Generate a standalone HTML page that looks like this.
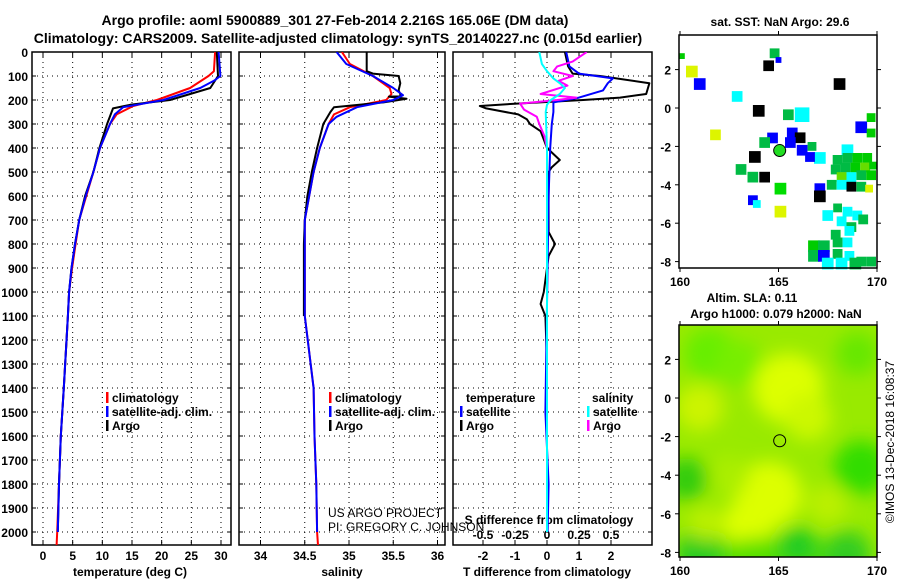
<!DOCTYPE html>
<html><head><meta charset="utf-8"><style>
body{margin:0;background:#fff}
svg{display:block;font-family:"Liberation Sans",sans-serif}
.t{font-weight:bold;font-size:12px}
.h{font-weight:bold;font-size:14px}
</style></head><body>
<svg id="chart" width="900" height="580" viewBox="0 0 900 580" xmlns="http://www.w3.org/2000/svg">
<defs>
<clipPath id="c1"><rect x="32" y="52" width="199" height="493"/></clipPath>
<clipPath id="c2"><rect x="239" y="52" width="206" height="493"/></clipPath>
<clipPath id="c3"><rect x="453" y="52" width="199" height="493"/></clipPath>
<clipPath id="cm2"><rect x="679" y="325" width="198" height="232"/></clipPath>
<filter id="blur" x="-50%" y="-50%" width="200%" height="200%"><feGaussianBlur stdDeviation="9"/></filter>
</defs>
<text class="h" x="335" y="25" text-anchor="middle">Argo profile: aoml 5900889_301 27-Feb-2014 2.216S 165.06E (DM data)</text>
<text class="h" x="338" y="43" text-anchor="middle">Climatology: CARS2009. Satellite-adjusted climatology: synTS_20140227.nc (0.015d earlier)</text>
<g id="g"></g>
</svg>
<script>
// ---- data ----
const depthTicks=[0,100,200,300,400,500,600,700,800,900,1000,1100,1200,1300,1400,1500,1600,1700,1800,1900,2000];
const tempTicks=[0,5,10,15,20,25,30];
const salTicks=[34,34.5,35,35.5,36];
const salTickLabels=["34","34.5","35","35.5","36"];
const tdiffTicks=[-2,-1,0,1,2];
const sdiffTicks=[-0.5,-0.25,0,0.25,0.5];
const sdiffLabels=["-0.5","-0.25","0","0.25","0.5"];

const argoDepth=[0,100,150,200,220,235,300,400,500,600,700,800,900,1000,1100,1400,1600,1800,2000];
const argoTemp=[29.3,29.5,28.2,21.4,14.7,11.8,10.8,9.5,8.5,7.1,6.1,5.4,4.8,4.4,4.2,3.5,3.0,2.7,2.5];
const climDepth=[0,80,100,150,200,225,260,300,400,500,600,700,800,900,1000,1100,1400,1600,1800,2000,2055];
const climTemp=[29.0,28.8,27.9,24.8,19.2,15.2,12.4,11.3,9.6,8.5,7.3,6.1,5.5,4.9,4.4,4.2,3.5,3.0,2.7,2.4,2.3];
const satDepth=[0,100,120,150,200,230,260,300,400,500,600,700,800,900,1000,1100,1400,1600,1800,2000];
const satTemp=[29.6,29.9,28.8,26.5,20.3,13.5,12.1,11.3,9.6,8.5,7.2,6.1,5.4,4.8,4.4,4.2,3.5,3.0,2.7,2.5];

const argoSDepth=[0,80,90,100,130,160,175,185,186,195,210,230,250,300,400,500,600,700,800,1100];
const argoSal=[35.20,35.20,35.27,35.56,35.58,35.56,35.58,35.58,35.45,35.65,35.39,34.83,34.79,34.71,34.64,34.58,34.53,34.50,34.49,34.49];
const climSDepth=[0,50,100,150,175,200,230,260,300,400,500,600,700,1100,1400,1600,1800,2000,2055];
const climSal=[34.92,35.01,35.27,35.46,35.48,35.42,35.01,34.83,34.77,34.67,34.60,34.55,34.50,34.50,34.60,34.61,34.63,34.64,34.65];
const satSDepth=[0,50,100,150,180,200,230,270,300,400,500,600,700,1100,1400,1600,1800,2000];
const satSal=[34.86,34.97,35.27,35.50,35.61,35.50,35.09,34.86,34.77,34.67,34.60,34.55,34.50,34.50,34.60,34.61,34.63,34.64];

const dArgoTDepth=[0,60,90,100,130,175,190,200,215,225,235,260,280,300,330,400,450,480,500,750,800,850,900,1000,1050,1100,1300,2000];
const dArgoT=[0.56,0.66,0.8,1.66,3.2,3.1,2.28,1.13,-0.94,-2.1,-1.9,-0.9,-0.63,-0.53,-0.2,0,0.4,0.15,0.05,0.05,0.25,0.05,0,-0.1,-0.2,-0.05,0,0];
const dSatTDepth=[0,60,90,110,130,160,190,210,250,300,400,600,1500,1800,2000];
const dSatT=[0.6,0.7,1.0,2.06,1.9,1.75,1.0,0.2,0.2,0.15,0.1,0.05,-0.05,0.05,0.02];
const dArgoSDepth=[0,40,60,80,100,120,140,175,190,200,215,240,270,300,350,400,2000];
const dArgoS=[0.31,0.2,0.08,0.05,0.2,0.09,0.16,-0.05,0.23,0.08,-0.21,-0.18,-0.08,-0.06,-0.02,0,0];
const dSatSDepth=[0,50,80,110,130,150,175,200,220,250,400,2000];
const dSatS=[-0.06,-0.04,0,0.05,0.1,0.14,0.1,0.03,0,-0.01,0,0];

// map squares: lon, lat, size(deg), colour
const sqLon=[160.6,161.0,162.9,164.5,164.8,165.0,164.0,165.5,166.2,168.1,161.8,164.7,164.3,165.7,166.1,165.6,166.2,166.7,167.1,166.6,163.8,163.1,163.7,164.3,165.1,167.1,167.1,165.1,163.7,163.9,168.5,169.2,169.7,169.7,160.1,
168.0,168.5,169.0,169.5,167.9,168.4,168.9,169.4,169.8,168.2,168.7,169.2,169.7,167.7,168.2,168.7,169.2,169.6,
167.5,168.0,168.5,169.0,168.2,168.7,167.9,168.6,169.3,
166.8,167.3,166.8,167.3,168.0,168.5,168.0,168.6,169.2,169.7,167.5,168.2,168.9];
const sqLat=[1.9,1.25,0.6,2.2,2.85,2.5,-0.15,-0.35,-0.35,1.25,-1.4,-1.56,-1.8,-1.3,-1.55,-1.8,-2.2,-2.0,-2.6,-2.55,-2.55,-3.2,-3.6,-3.6,-4.2,-4.2,-4.6,-5.4,-4.8,-5.0,-2.2,-1.0,-0.5,-1.3,2.7,
-2.7,-2.6,-2.6,-2.6,-3.2,-3.1,-3.1,-3.1,-3.0,-3.6,-3.6,-3.5,-3.5,-4.0,-4.0,-4.1,-4.1,-4.2,
-5.6,-5.2,-5.4,-5.6,-5.9,-6.2,-6.6,-6.4,-5.8,
-7.2,-7.2,-7.7,-7.7,-7.0,-7.0,-7.6,-7.7,-8.0,-8.0,-8.1,-8.1,-8.1];
const sqSize=[0.6,0.6,0.55,0.55,0.5,0.3,0.6,0.55,0.75,0.6,0.55,0.55,0.55,0.55,0.55,0.55,0.55,0.45,0.6,0.5,0.6,0.55,0.55,0.55,0.6,0.55,0.6,0.6,0.5,0.4,0.6,0.6,0.45,0.45,0.3,
0.5,0.5,0.5,0.5,0.5,0.5,0.5,0.5,0.4,0.5,0.5,0.5,0.5,0.5,0.5,0.5,0.5,0.4,
0.55,0.45,0.5,0.5,0.5,0.5,0.5,0.5,0.5,
0.6,0.6,0.6,0.6,0.5,0.5,0.5,0.5,0.5,0.5,0.6,0.6,0.6];
const sqCol=["#ddf500","#0000ff","#00ffff","#000","#00bb44","#0000ff","#000","#00bb44","#00ffff","#000","#ddf500","#0000ff","#00bb44","#0000ff","#000","#0000ff","#0000ff","#00bb44","#00ffff","#0000ff","#000","#00bb44","#00bb44","#000","#00dd00","#0000ff","#000","#ddf500","#0000ff","#00ffff","#00ffff","#0000ff","#00cc00","#00cc00","#00cc00",
"#00bb44","#00bb44","#00cc00","#00cc00","#00bb44","#00bb44","#00cc00","#66dd00","#00cc00","#66dd00","#00ffff","#00bb44","#00cc00","#00bb44","#00ffff","#000","#00bb44","#ddf500",
"#00ffff","#00bb44","#00ffff","#00ffff","#00ffff","#00bb44","#00bb44","#00ffff","#00bb44",
"#00cc00","#00bb44","#00bb44","#0000ff","#00bb44","#00ffff","#00bb44","#00ffff","#00bb44","#00bb44","#00ffff","#00ffff","#00bb44"];

// SLA blobs: lon, lat, radius(deg), colour
const blobLon=[161.5,163,165.5,166.5,164.5,163.5,161,169,169.2,160.3,165,166,161,168.5,161.3,162.5,167.5];
const blobLat=[2.3,1.8,0.5,-1,-5,-6.5,-0.5,2.3,-3.6,-4.2,-8.3,-7.7,-8,-8.1,-6.5,-4,-5.5];
const blobR=[1.3,1.2,1.8,1.2,1.7,1.3,1.2,1.1,1.4,1.1,3.5,1.0,1.2,1.2,0.9,1.0,1.0];
const blobCol=["#66ee00","#77ee00","#ddff00","#ccf800","#ddff00","#ddff00","#ccf400","#66e800","#33dd00","#33cc11","#55e000","#22cc22","#22cc22","#33cc22","#bbf000","#aaee00","#bbf000"];

// ---- drawing ----
const NS="http://www.w3.org/2000/svg";
const G=document.getElementById('g');
function mk(tag,at,parent){const e=document.createElementNS(NS,tag);for(const k in at)e.setAttribute(k,at[k]);(parent||G).appendChild(e);return e;}
const Y0=52,Y1=545;
const yD=d=>Y0+d*0.24;
const xT=v=>43+v*5.933;
const xS=v=>260.5+(v-34)*88.5;
const xDT=v=>547+v*32;
const xDS=v=>547+v*128;
const P=[[32,231,xT,tempTicks],[239,445,xS,salTicks],[453,652,xDT,tdiffTicks]];

P.forEach((p,i)=>{
  const [a,b,fx,ticks]=p;
  const pg=mk('g',{});
  
  
  depthTicks.forEach(d=>{ if(d>0){
    const l=mk('line',{x1:a,x2:b,y1:yD(d),y2:yD(d),stroke:'#000','stroke-dasharray':'1 4','stroke-width':1},pg);
    
    
    mk('line',{x1:a,x2:a+4,y1:yD(d),y2:yD(d),stroke:'#000'},pg);
    mk('line',{x1:b-4,x2:b,y1:yD(d),y2:yD(d),stroke:'#000'},pg);
  }});
  ticks.forEach(t=>{
    const x=fx(t);
    const l=mk('line',{x1:x,x2:x,y1:Y0,y2:Y1,stroke:'#000','stroke-dasharray':'1 4'},pg);
    
    
    mk('line',{x1:x,x2:x,y1:Y1-5,y2:Y1,stroke:'#000'},pg);
    mk('line',{x1:x,x2:x,y1:Y0,y2:Y0+5,stroke:'#000'},pg);
  });
  const r=mk('rect',{x:a,y:Y0,width:b-a,height:Y1-Y0,fill:'none',stroke:'#000','stroke-width':1.5},pg);
  
  
});
depthTicks.forEach(d=>{
  const t=mk('text',{x:28,y:yD(d)+5,'text-anchor':'end',class:'t'});t.textContent=d;
  
  
});
tempTicks.forEach(v=>{const t=mk('text',{x:xT(v),y:560,'text-anchor':'middle',class:'t'});t.textContent=v;
  });
salTicks.forEach((v,i)=>{const t=mk('text',{x:xS(v),y:560,'text-anchor':'middle',class:'t'});t.textContent=salTickLabels[i];
  });
tdiffTicks.forEach(v=>{const t=mk('text',{x:xDT(v),y:560,'text-anchor':'middle',class:'t'});t.textContent=v;
  });
sdiffTicks.forEach((v,i)=>{const t=mk('text',{x:xDS(v),y:539,'text-anchor':'middle',class:'t'});t.textContent=sdiffLabels[i];
  });

function txt(x,y,s,name,anchor,cls){const t=mk('text',{x:x,y:y,'text-anchor':anchor||'start',class:cls||'t'});t.textContent=s;
  return t;}
txt(130,576,'temperature (deg C)','x-axis-title-temperature','middle');
txt(342,576,'salinity','x-axis-title-salinity','middle');
txt(547,576,'T difference from climatology','x-axis-title-tdiff','middle');
txt(549,524,'S difference from climatology','x-axis-title-sdiff','middle');
const c1=txt(328,517,'US ARGO PROJECT','credit-project');c1.setAttribute('class','');c1.setAttribute('font-size','12');
const c2=txt(328,531,'PI: GREGORY C. JOHNSON','credit-pi');c2.setAttribute('class','');c2.setAttribute('font-size','12');

function line(xs,ds,fx,col,clip,name,w){
  const pts=xs.map((v,i)=>fx(v).toFixed(1)+','+yD(ds[i]).toFixed(1)).join(' ');
  const e=mk('polyline',{points:pts,fill:'none',stroke:col,'stroke-width':w||2,'clip-path':'url(#'+clip+')','stroke-linejoin':'round'});
  
  
}
line(climTemp,climDepth,xT,'#ff0000','c1','temp-climatology-line');
line(argoTemp,argoDepth,xT,'#000','c1','temp-argo-line');
line(satTemp,satDepth,xT,'#0000ff','c1','temp-satellite-line');
line(climSal,climSDepth,xS,'#ff0000','c2','sal-climatology-line');
line(argoSal,argoSDepth,xS,'#000','c2','sal-argo-line');
line(satSal,satSDepth,xS,'#0000ff','c2','sal-satellite-line');
line(dArgoT,dArgoTDepth,xDT,'#000','c3','tdiff-argo-line');
line(dSatT,dSatTDepth,xDT,'#0000ff','c3','tdiff-satellite-line');
line(dArgoS,dArgoSDepth,xDS,'#ff00ff','c3','sdiff-argo-line');
line(dSatS,dSatSDepth,xDS,'#00ffff','c3','sdiff-satellite-line');

function leg(x,y,col,s,name){
  const g=mk('g',{});
  
  
  mk('rect',{x:x,y:y-10,width:2.5,height:11,fill:col},g);
  const t=mk('text',{x:x+6,y:y,class:'t'},g);t.textContent=s;
}
leg(106,402,'#ff0000','climatology','legend-temp-climatology');
leg(106,416,'#0000ff','satellite-adj. clim.','legend-temp-satellite');
leg(106,430,'#000','Argo','legend-temp-argo');
leg(329,402,'#ff0000','climatology','legend-sal-climatology');
leg(329,416,'#0000ff','satellite-adj. clim.','legend-sal-satellite');
leg(329,430,'#000','Argo','legend-sal-argo');
txt(466,402,'temperature','legend-heading-temperature');
txt(592,402,'salinity','legend-heading-salinity');
leg(460,416,'#0000ff','satellite','legend-tdiff-satellite');
leg(460,430,'#000','Argo','legend-tdiff-argo');
leg(587,416,'#00ffff','satellite','legend-sdiff-satellite');
leg(587,430,'#ff00ff','Argo','legend-sdiff-argo');

// ---- maps ----
const mxL=lon=>680+(lon-160)*19.7;
const myT=lat=>108-lat*19.2;
const myB=lat=>398-lat*19.3;
function mapFrame(top,bot,fy,name){
  const g=mk('g',{});
  
  
  mk('rect',{x:679,y:top,width:198,height:bot-top,fill:'none',stroke:'#000','stroke-width':1.5},g);
  [160,165,170].forEach(l=>{const x=mxL(l);mk('line',{x1:x,x2:x,y1:bot,y2:bot+4,stroke:'#000'},g);mk('line',{x1:x,x2:x,y1:top-4,y2:top,stroke:'#000'},g);
    const t=mk('text',{x:x,y:bot+18,'text-anchor':'middle',class:'t'},g);t.textContent=l;});
  [2,0,-2,-4,-6,-8].forEach(l=>{const y=fy(l);mk('line',{x1:675,x2:679,y1:y,y2:y,stroke:'#000'},g);mk('line',{x1:877,x2:881,y1:y,y2:y,stroke:'#000'},g);
    const t=mk('text',{x:671,y:y+5,'text-anchor':'end',class:'t'},g);t.textContent=l;});
}
sqLon.forEach((lon,i)=>{
  const s=sqSize[i]*19.5;
  const r=mk('rect',{x:(mxL(lon)-s/2).toFixed(1),y:(myT(sqLat[i])-s/2).toFixed(1),width:s.toFixed(1),height:s.toFixed(1),fill:sqCol[i]});
  
  
});
const ac=mk('circle',{cx:mxL(165.06),cy:myT(-2.216),r:6,fill:'#22dd22',stroke:'#000','stroke-width':1});


mapFrame(35,268,myT,'sst-map');
txt(780,26,'sat. SST: NaN Argo: 29.6','sst-map-title','middle');

const sg=mk('g',{'clip-path':'url(#cm2)'});


mk('rect',{x:679,y:325,width:198,height:232,fill:'#99ea00'},sg);
const bg=mk('g',{filter:'url(#blur)'},sg);
blobLon.forEach((lon,i)=>{
  const e=mk('ellipse',{cx:mxL(lon),cy:myB(blobLat[i]),rx:blobR[i]*19.7,ry:blobR[i]*(i==10?6:19.3),fill:blobCol[i]},bg);
  
  
});
const ac2=mk('circle',{cx:mxL(165.06),cy:myB(-2.216),r:6,fill:'none',stroke:'#000','stroke-width':1});


mapFrame(325,557,myB,'sla-map');
txt(752,302,'Altim. SLA: 0.11','sla-map-title-1','middle');
txt(776,318,'Argo h1000: 0.079 h2000: NaN','sla-map-title-2','middle');
const im=mk('text',{x:0,y:0,'text-anchor':'middle','font-size':'12',transform:'translate(894,442) rotate(-90)'});
im.textContent='©IMOS 13-Dec-2018 16:08:37';


</script>
</body></html>
